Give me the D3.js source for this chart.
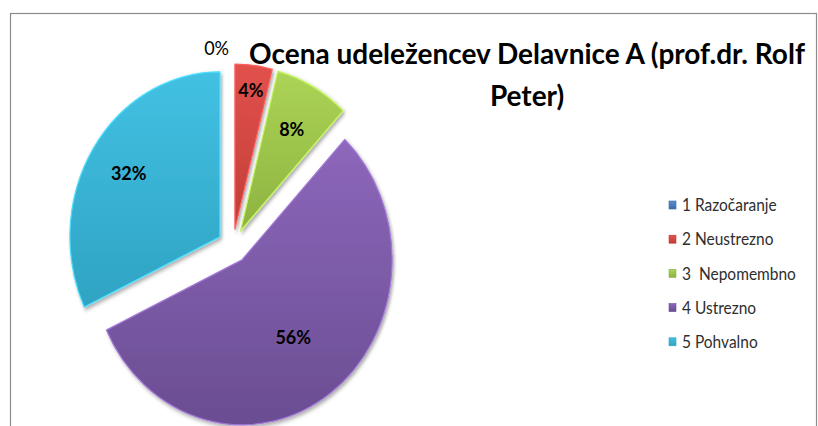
<!DOCTYPE html>
<html>
<head>
<meta charset="utf-8">
<script src="https://cdn.jsdelivr.net/npm/d3@7"></script>
<style>
  body { margin: 0; background: #fff; }
  svg text { font-family: Lato, "Open Sans", sans-serif; }
</style>
</head>
<body>
<div id="chart"></div>
<script>
// data (25 answers)
const categories = ['1 Razočaranje', '2 Neustrezno', '3  Nepomembno', '4 Ustrezno', '5 Pohvalno'];
const counts = [0, 1, 2, 14, 8];
const colorsTop = ['#5b8fd0', '#e2514c', '#acd455', '#8d67bb', '#42c1e3'];
const colorsBottom = ['#3a6ba6', '#c23d39', '#8db341', '#6a4d92', '#2fa3c3'];
const titleLines = ['Ocena udeležencev Delavnice A (prof.dr. Rolf', 'Peter)'];

const width = 818, height = 426;
const cx = 233, cy = 246;       // pie centre
const radius = 150;
const stretch = 1.1;            // picture is a little taller than wide
const explode = 15.5;

const svg = d3.select('#chart').append('svg')
  .attr('width', width)
  .attr('height', height);

const defs = svg.append('defs');
categories.forEach((c, i) => {
  const g = defs.append('linearGradient')
    .attr('id', 'grad' + i)
    .attr('x1', 0).attr('y1', 0).attr('x2', 0).attr('y2', 1);
  g.append('stop').attr('offset', '0%').attr('stop-color', colorsTop[i]);
  g.append('stop').attr('offset', '100%').attr('stop-color', colorsBottom[i]);
});
const shadow = defs.append('filter').attr('id', 'shadow')
  .attr('x', '-10%').attr('y', '-10%').attr('width', '130%').attr('height', '130%');
shadow.append('feDropShadow')
  .attr('dx', 1.5).attr('dy', 2).attr('stdDeviation', 1.8)
  .attr('flood-color', '#000').attr('flood-opacity', 0.35);

// chart frame (bottom edge is cut off in the original)
svg.append('rect')
  .attr('x', 10.5).attr('y', 13.5)
  .attr('width', 806).attr('height', 500)
  .attr('fill', 'none')
  .attr('stroke', '#8c8c8c')
  .attr('stroke-width', 1.2);

const total = d3.sum(counts);
const pct = v => Math.round(v / total * 100) + '%';

const arcs = d3.pie().sort(null).value(d => d)(counts);
const arc = d3.arc().innerRadius(0).outerRadius(radius);
const mid = d => (d.startAngle + d.endAngle) / 2;

const pieG = svg.append('g')
  .attr('transform', `translate(${cx},${cy}) scale(1,${stretch})`);

pieG.selectAll('path.slice')
  .data(arcs.filter(d => d.value > 0))
  .enter().append('path')
  .attr('class', 'slice')
  .attr('d', arc)
  .attr('transform', d => `translate(${Math.sin(mid(d)) * explode},${-Math.cos(mid(d)) * explode})`)
  .attr('fill', d => `url(#grad${d.index})`)
  .attr('stroke', d => d3.color(colorsTop[d.index]).brighter(0.4))
  .attr('stroke-width', 1.2)
  .attr('stroke-linejoin', 'round')
  .attr('filter', 'url(#shadow)');

// data labels, fraction of the radius from each slice's apex
const labelFrac = [1.1, 0.85, 0.71, 0.58, 0.72];
const labels = svg.append('g');
arcs.forEach(d => {
  const a = mid(d);
  const r = explode + labelFrac[d.index] * radius;
  let x = cx + Math.sin(a) * r;
  const y = cy - Math.cos(a) * r * stretch;
  const zero = d.value === 0;
  if (zero) x -= 4;
  labels.append('text')
    .attr('transform', `translate(${x},${y}) scale(1,${stretch})`)
    .attr('dy', '0.36em')
    .attr('text-anchor', zero ? 'end' : 'middle')
    .attr('font-size', 18)
    .attr('font-weight', zero ? 'normal' : 'bold')
    .attr('fill', '#000')
    .text(pct(d.value));
});

// title
const title = svg.append('g');
titleLines.forEach((t, i) => {
  title.append('text')
    .attr('transform', `translate(527,${64 + i * 42}) scale(1,1.05)`)
    .attr('text-anchor', 'middle')
    .attr('font-size', 28)
    .attr('font-weight', 'bold')
    .attr('fill', '#000')
    .text(t);
});

// legend
const legend = svg.append('g').attr('transform', 'translate(669,205)');
const rows = legend.selectAll('g')
  .data(categories)
  .enter().append('g')
  .attr('transform', (d, i) => `translate(0,${i * 34.2})`);
rows.append('rect')
  .attr('x', 0).attr('y', -4)
  .attr('width', 7).attr('height', 8)
  .attr('fill', (d, i) => `url(#grad${i})`)
  .attr('stroke', (d, i) => colorsBottom[i])
  .attr('stroke-width', 0.6);
rows.append('text')
  .attr('transform', `translate(13,0) scale(1,${stretch})`)
  .attr('dy', '0.36em')
  .attr('font-size', 15.5)
  .attr('fill', '#2e2e2e')
  .style('white-space', 'pre')
  .text(d => d);
</script>
</body>
</html>
